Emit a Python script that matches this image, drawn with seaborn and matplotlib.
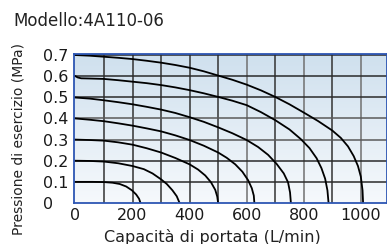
import matplotlib
matplotlib.use('Agg')
import matplotlib.pyplot as plt
from matplotlib.colors import LinearSegmentedColormap
import seaborn as sns
import pandas as pd
import numpy as np

# curve (portata L/min, pressione MPa)
p01_x = [0, 60, 100, 130, 155, 178, 198, 213, 223, 228]
p01_y = [0.100, 0.100, 0.099, 0.096, 0.090, 0.078, 0.060, 0.040, 0.020, 0.0]

p02_x = [0, 50, 100, 150, 200, 240, 270, 300, 320, 340, 355, 365]
p02_y = [0.200, 0.199, 0.196, 0.188, 0.175, 0.160, 0.140, 0.112, 0.090, 0.060, 0.032, 0.0]

p03_x = [0, 50, 100, 150, 200, 250, 300, 350, 400, 430, 455, 475, 490, 497, 500]
p03_y = [0.300, 0.298, 0.295, 0.287, 0.276, 0.259, 0.239, 0.213, 0.183, 0.158,
         0.130, 0.098, 0.062, 0.030, 0.0]

p04_x = [0, 50, 100, 150, 200, 250, 300, 350, 400, 450, 500, 530, 560, 585, 605,
         618, 625, 627]
p04_y = [0.400, 0.394, 0.387, 0.377, 0.366, 0.353, 0.339, 0.320, 0.298, 0.271,
         0.239, 0.214, 0.183, 0.148, 0.108, 0.070, 0.035, 0.0]

p05_x = [0, 50, 100, 150, 200, 250, 300, 350, 400, 450, 500, 550, 600, 640, 675,
         705, 730, 745, 752, 755]
p05_y = [0.499, 0.494, 0.486, 0.477, 0.467, 0.455, 0.442, 0.426, 0.406, 0.384,
         0.358, 0.330, 0.298, 0.265, 0.228, 0.185, 0.140, 0.098, 0.050, 0.0]

p06_x = [0, 8, 20, 50, 100, 150, 200, 250, 300, 350, 400, 450, 500, 550, 600, 650,
         700, 750, 790, 820, 845, 862, 875, 883, 887]
p06_y = [0.600, 0.594, 0.590, 0.589, 0.587, 0.581, 0.574, 0.567, 0.558, 0.547,
         0.534, 0.519, 0.502, 0.484, 0.463, 0.430, 0.392, 0.348, 0.302, 0.260,
         0.212, 0.165, 0.115, 0.060, 0.0]

p07_x = [0, 50, 100, 150, 200, 250, 300, 350, 400, 450, 500, 550, 600, 650, 700,
         750, 800, 850, 900, 930, 955, 975, 990, 1000, 1006, 1008]
p07_y = [0.700, 0.697, 0.692, 0.687, 0.681, 0.673, 0.664, 0.653, 0.640, 0.623,
         0.603, 0.583, 0.560, 0.533, 0.502, 0.467, 0.428, 0.388, 0.343, 0.308,
         0.268, 0.222, 0.175, 0.125, 0.060, 0.0]

x_ticks = [0, 200, 400, 600, 800, 1000]
y_ticks = [0, 0.1, 0.2, 0.3, 0.4, 0.5, 0.6, 0.7]
y_labels = ['0', '0.1', '0.2', '0.3', '0.4', '0.5', '0.6', '0.7']

curve = {'0.1': (p01_x, p01_y), '0.2': (p02_x, p02_y), '0.3': (p03_x, p03_y),
         '0.4': (p04_x, p04_y), '0.5': (p05_x, p05_y), '0.6': (p06_x, p06_y),
         '0.7': (p07_x, p07_y)}
rows = []
for nome, (xs, ys) in curve.items():
    for a, b in zip(xs, ys):
        rows.append({'curva': nome, 'portata': a, 'pressione': b})
df = pd.DataFrame(rows)

plt.rcParams['font.family'] = ['DejaVu Sans']
fig = plt.figure(figsize=(3.87, 2.44), dpi=100)
ax = fig.add_axes([74/387, 1-203/244, 312.5/387, 149/244])

xmin, xmax, ymin, ymax = -5, 1090, 0, 0.705

# sfondo sfumato
cmap = LinearSegmentedColormap.from_list('bg', ['#cfe0ee', '#f6f9fc'])
grad = np.linspace(0, 1, 256).reshape(-1, 1)
ax.imshow(grad, extent=[xmin, xmax, ymin, ymax], aspect='auto', cmap=cmap,
          origin='upper', zorder=0)

# griglia
for v in range(100, 1001, 100):
    col = '#707070' if v in (600, 800, 1000) else '#333333'
    ax.axvline(v, color=col, lw=1.1, zorder=1)
for h in [0.1, 0.2, 0.3, 0.4, 0.5, 0.6, 0.7]:
    col = '#5a5a5a' if h in (0.3, 0.4) else '#2a2a2a'
    ax.axhline(h, color=col, lw=1.1, zorder=1)

sns.lineplot(data=df, x='portata', y='pressione', units='curva', estimator=None,
             sort=False, color='#000000', lw=1.3, ax=ax, zorder=3)

ax.set_xlim(xmin, xmax)
ax.set_ylim(ymin, ymax)
ax.set_xticks(x_ticks)
ax.set_xticklabels([str(t) for t in x_ticks])
ax.set_yticks(y_ticks)
ax.set_yticklabels(y_labels)
ax.tick_params(axis='both', length=0, labelsize=11.5, colors='#1a1a1a')
ax.tick_params(axis='x', pad=3.5)
ax.tick_params(axis='y', pad=22.5)
plt.setp(ax.get_yticklabels(), ha='left')
ax.set_xlabel('')
ax.set_ylabel('')

for s in ax.spines.values():
    s.set_color('#2d56b3')
    s.set_linewidth(1.3)
    s.set_zorder(4)

fig.text(13/387, 1-26/244, 'Modello:4A110-06', fontsize=12, ha='left',
         va='baseline', color='#222222')
fig.text(212/387, 1-242/244, 'Capacità di portata (L/min)', fontsize=11.5,
         ha='center', va='baseline', color='#222222')
fig.text(19/387, 1-139/244, 'Pressione di esercizio (MPa)', fontsize=10,
         ha='center', va='center', rotation=90, color='#222222')

fig.savefig('out.png', dpi=100)
